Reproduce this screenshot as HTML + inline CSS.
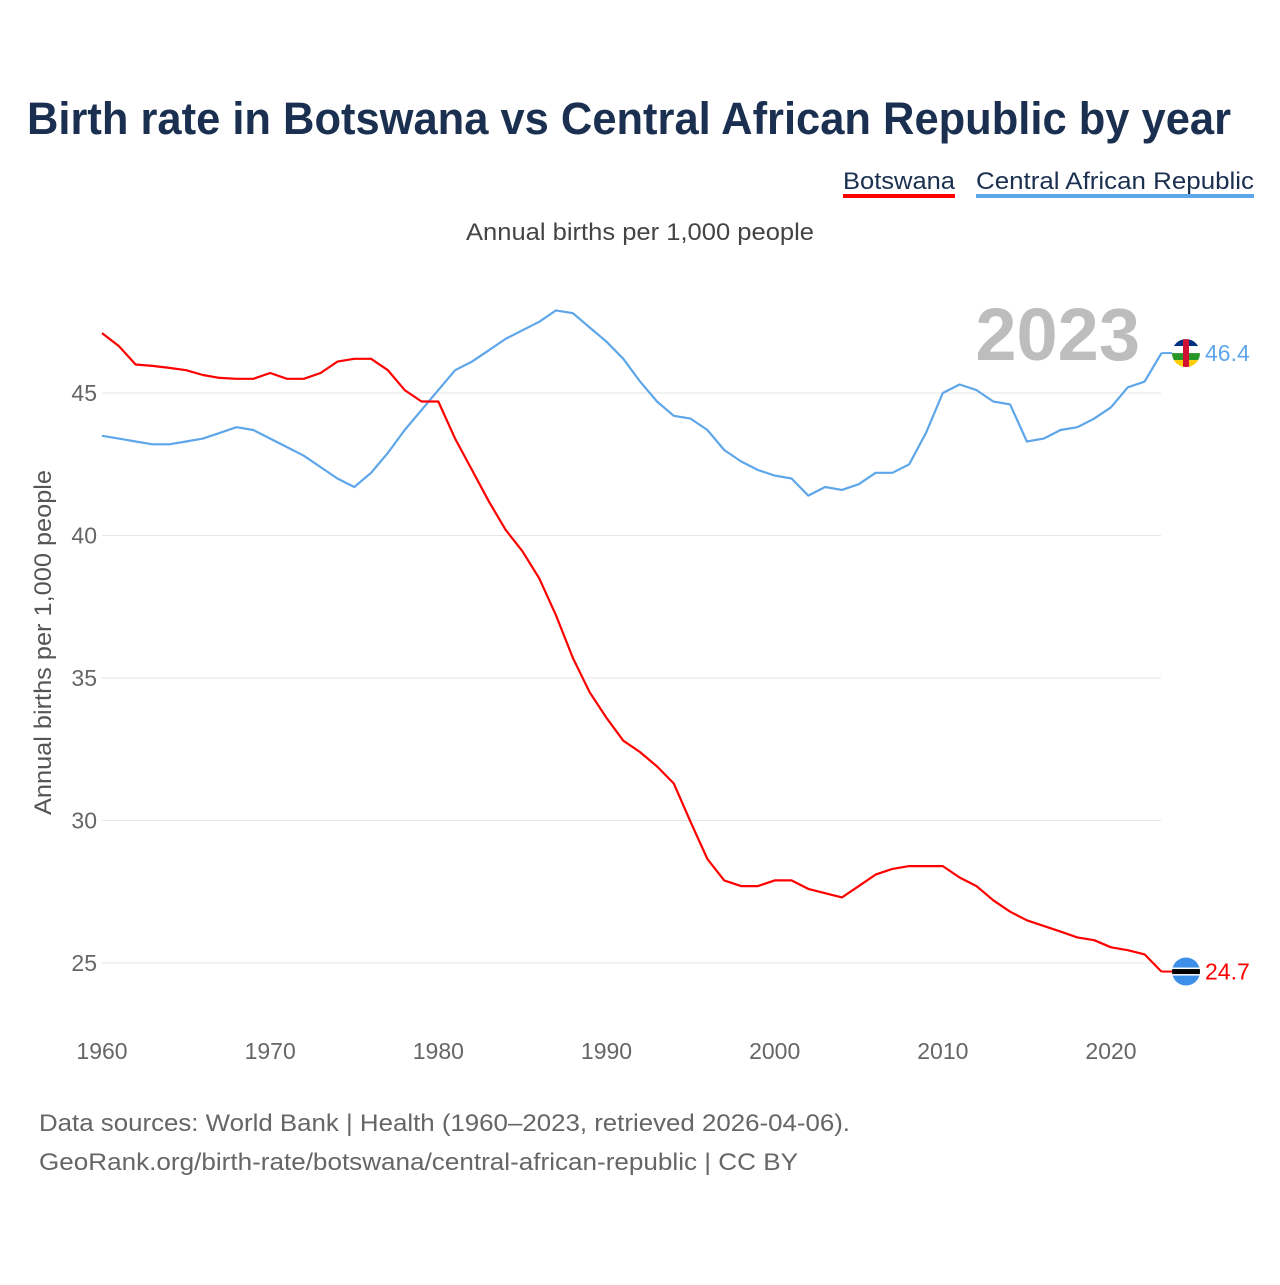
<!DOCTYPE html>
<html><head><meta charset="utf-8"><style>
body{margin:0;background:#fff;width:1280px;height:1280px;overflow:hidden;font-family:"Liberation Sans",sans-serif}
</style></head><body>
<svg id="chart" width="1280" height="1280" xmlns="http://www.w3.org/2000/svg" font-family="Liberation Sans, sans-serif">
<text x="27" y="134" textLength="1204" lengthAdjust="spacingAndGlyphs" font-size="45" font-weight="bold" fill="#1b3050">Birth rate in Botswana vs Central African Republic by year</text>
<g>
<text x="843" y="189" textLength="112" lengthAdjust="spacingAndGlyphs" font-size="24" fill="#1b3050">Botswana</text>
<rect x="843" y="194" width="112" height="4" fill="#ff0000"/>
<text x="976" y="189" textLength="278" lengthAdjust="spacingAndGlyphs" font-size="24" fill="#1b3050">Central African Republic</text>
<rect x="976" y="194" width="278" height="4" fill="#5ea6ea"/>
</g>
<text x="466" y="240" textLength="348" lengthAdjust="spacingAndGlyphs" font-size="24" fill="#444">Annual births per 1,000 people</text>
<text x="1140" y="360" text-anchor="end" font-size="74" font-weight="bold" fill="#bdbdbd">2023</text>
<text transform="translate(51,815) rotate(-90)" textLength="345" lengthAdjust="spacingAndGlyphs" font-size="24" fill="#555">Annual births per 1,000 people</text>
<g id="grid"></g><g id="lines"></g><g id="ends"></g>
<text x="39" y="1131" textLength="811" lengthAdjust="spacingAndGlyphs" font-size="24" fill="#666">Data sources: World Bank | Health (1960–2023, retrieved 2026-04-06).</text>
<text x="39" y="1170" textLength="759" lengthAdjust="spacingAndGlyphs" font-size="24" fill="#666">GeoRank.org/birth-rate/botswana/central-african-republic | CC BY</text>
</svg>
<script>
const years=[];for(let y=1960;y<=2023;y++)years.push(y);
const botswana=[47.1,46.65,46.0,45.95,45.88,45.8,45.63,45.53,45.5,45.5,45.7,45.5,45.5,45.7,46.1,46.2,46.2,45.8,45.1,44.7,44.7,43.4,42.3,41.2,40.2,39.45,38.5,37.2,35.7,34.5,33.6,32.8,32.4,31.9,31.3,29.95,28.65,27.9,27.7,27.7,27.9,27.9,27.6,27.45,27.3,27.7,28.1,28.3,28.4,28.4,28.4,28.0,27.7,27.2,26.8,26.5,26.3,26.1,25.9,25.8,25.55,25.45,25.3,24.7];
const car=[43.5,43.4,43.3,43.2,43.2,43.3,43.4,43.6,43.8,43.7,43.4,43.1,42.8,42.4,42.0,41.7,42.2,42.9,43.7,44.4,45.1,45.8,46.1,46.5,46.9,47.2,47.5,47.9,47.8,47.3,46.8,46.2,45.4,44.7,44.2,44.1,43.7,43.0,42.6,42.3,42.1,42.0,41.4,41.7,41.6,41.8,42.2,42.2,42.5,43.6,45.0,45.3,45.1,44.7,44.6,43.3,43.4,43.7,43.8,44.1,44.5,45.2,45.4,46.4];
const yTicks=[25,30,35,40,45];
const xTicks=[1960,1970,1980,1990,2000,2010,2020];
const NS="http://www.w3.org/2000/svg";
const xS=y=>102+(y-1960)*(1009/60);
const yS=v=>963-(v-25)*28.5;
function mk(tag,attrs,parent){const e=document.createElementNS(NS,tag);for(const k in attrs)e.setAttribute(k,attrs[k]);parent.appendChild(e);return e;}
const grid=document.getElementById('grid');
yTicks.forEach(t=>{
 const l=mk('line',{x1:102,x2:1161,y1:yS(t),y2:yS(t),stroke:'#e6e6e6','stroke-width':1},grid);
 
 
 const tx=mk('text',{x:97,y:yS(t)+8,'text-anchor':'end','font-size':23,fill:'#666'},grid);
 tx.textContent=t;
 
 
});
xTicks.forEach(t=>{
 const tx=mk('text',{x:xS(t),y:1059,'text-anchor':'middle','font-size':23,fill:'#666'},grid);
 tx.textContent=t;
 
 
});
const lines=document.getElementById('lines');
function path(vals,color,name){
 const d=vals.map((v,i)=>(i?'L':'M')+xS(years[i]).toFixed(1)+','+yS(v).toFixed(1)).join('');
 const p=mk('path',{d:d,fill:'none',stroke:color,'stroke-width':2.2,'stroke-linejoin':'round'},lines);
 
 
}
path(car,'#5ea6ea','car-line');
path(botswana,'#ff0000','botswana-line');
const ends=document.getElementById('ends');
const last=years.length-1,xl=xS(years[last]);
const cy1=yS(car[last]);
mk('line',{x1:xl,x2:1173,y1:cy1,y2:cy1,stroke:'#5ea6ea','stroke-width':2},ends);
const fg=mk('g',{},ends);


const cp1=mk('clipPath',{id:'c1'},fg);mk('circle',{cx:1186,cy:cy1,r:14},cp1);
const g1=mk('g',{'clip-path':'url(#c1)'},fg);
[['#003082',-14],['#fff',-7],['#289728',0],['#ffce00',7]].forEach(([c,o])=>mk('rect',{x:1172,y:cy1+o,width:28,height:7,fill:c},g1));
mk('rect',{x:1183,y:cy1-14,width:6,height:28,fill:'#d21034'},g1);
const t1=mk('text',{x:1205,y:cy1+8,'font-size':23,fill:'#5ea6ea'},ends);t1.textContent=car[last].toFixed(1);


const by=yS(botswana[last]);
mk('line',{x1:xl,x2:1173,y1:by,y2:by,stroke:'#ff0000','stroke-width':2},ends);
const bg=mk('g',{},ends);


const cp=mk('clipPath',{id:'c2'},bg);mk('circle',{cx:1186,cy:by,r:14},cp);
const g2=mk('g',{'clip-path':'url(#c2)'},bg);
mk('rect',{x:1172,y:by-14,width:28,height:28,fill:'#3d8fe8'},g2);
mk('rect',{x:1172,y:by-4,width:28,height:8,fill:'#fff'},g2);
mk('rect',{x:1172,y:by-2.5,width:28,height:5,fill:'#000'},g2);
const t2=mk('text',{x:1205,y:by+8,'font-size':23,fill:'#ff0000'},ends);t2.textContent=botswana[last].toFixed(1);


</script>
</body></html>
